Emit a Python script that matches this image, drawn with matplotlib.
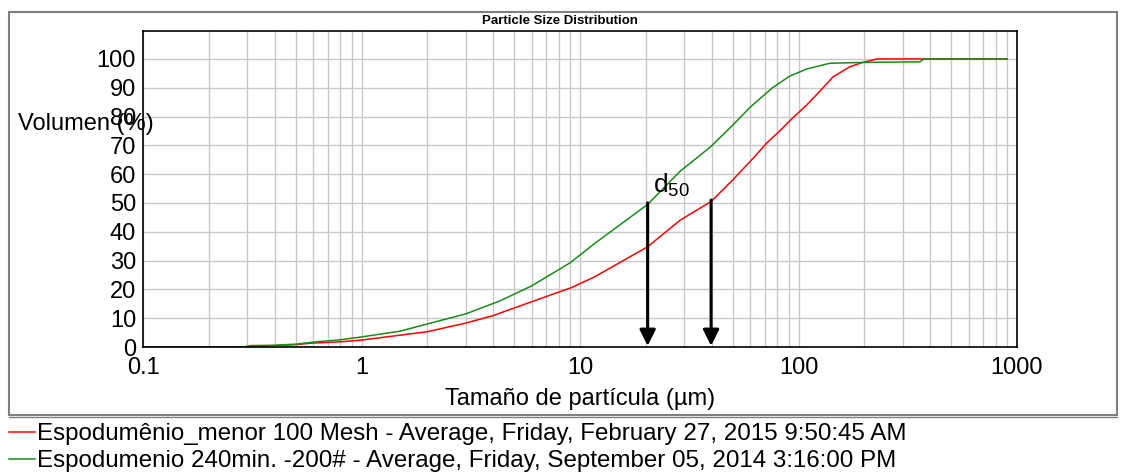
import matplotlib
matplotlib.use("Agg")
import matplotlib.pyplot as plt
from matplotlib.patches import Rectangle
from matplotlib.ticker import FixedLocator, LogLocator, NullFormatter

plt.rcParams['font.family'] = ['Liberation Sans', 'DejaVu Sans']
plt.rcParams['mathtext.fontset'] = 'custom'
plt.rcParams['mathtext.rm'] = 'Liberation Sans'
plt.rcParams['mathtext.it'] = 'Liberation Sans'

# particle size (um) vs cumulative volume (%)
red_size = [0.1, 0.35, 0.37, 0.5, 0.58, 0.8, 1.0, 2.0, 3.0, 4.0, 6.0, 9.2, 11.7,
            20.4, 28.7, 39.8, 50, 62, 71.5, 82, 94, 109, 126, 144, 172, 197, 229, 900]
red_vol = [0, 0, 0.4, 0.8, 1.3, 1.8, 2.4, 5.3, 8.3, 10.9, 15.7, 20.7, 24.4,
           34.8, 44, 50.5, 58, 65.5, 70.8, 75, 79.5, 84, 89, 93.8, 97.3, 98.8, 100, 100]

green_size = [0.1, 0.29, 0.31, 0.4, 0.5, 0.62, 0.8, 1.0, 1.5, 2.0, 3.0, 4.3, 6.0, 9.0,
              11.7, 20.4, 28.7, 39.6, 50, 60, 76, 91, 109, 139, 200, 360, 375, 900]
green_vol = [0, 0, 0.5, 0.6, 1.0, 1.8, 2.5, 3.5, 5.5, 8.0, 11.5, 16.0, 21.2, 29.2,
             36, 49.5, 61, 69.5, 77, 83.2, 90, 94, 96.5, 98.5, 98.8, 99, 100, 100]

d50_sizes = [20.4, 39.8]
d50_vals = [50, 51]

red_label = "Espodumênio_menor 100 Mesh - Average, Friday, February 27, 2015 9:50:45 AM"
green_label = "Espodumenio 240min. -200# - Average, Friday, September 05, 2014 3:16:00 PM"

W, H = 1128, 473
fig = plt.figure(figsize=(W / 100, H / 100), dpi=100)

# outer frame of the chart
fig.patches.append(Rectangle((9 / W, 1 - 415 / H), (1117 - 9) / W, (415 - 12) / H,
                             transform=fig.transFigure, fill=False,
                             edgecolor='#808080', linewidth=1.5))
fig.lines.append(plt.Line2D([9 / W, 1117 / W], [1 - 417 / H, 1 - 417 / H],
                            transform=fig.transFigure, color='#808080', lw=1))

ax = fig.add_axes([143 / W, 1 - 347 / H, (1017 - 143) / W, (347 - 31) / H])

l1, = ax.plot(red_size, red_vol, color='#ff0000', lw=1.1, label=red_label)
l2, = ax.plot(green_size, green_vol, color='#1a8a1a', lw=1.1, label=green_label)

ax.set_xscale('log')
ax.set_xlim(0.1, 1000)
ax.set_ylim(0, 109.7)
ax.yaxis.set_major_locator(FixedLocator(range(0, 101, 10)))
ax.xaxis.set_major_locator(FixedLocator([0.1, 1, 10, 100, 1000]))
ax.set_xticklabels(['0.1', '1', '10', '100', '1000'])
ax.xaxis.set_minor_locator(LogLocator(base=10, subs=range(2, 10)))
ax.xaxis.set_minor_formatter(NullFormatter())
ax.grid(True, which='both', color='#c8c8c8', lw=1)
ax.set_axisbelow(True)
ax.tick_params(which='both', length=0, labelsize=17)
ax.tick_params(axis='x', pad=7)
ax.tick_params(axis='y', pad=5)
for s in ax.spines.values():
    s.set_color('black')
    s.set_linewidth(1.2)

for x, v in zip(d50_sizes, d50_vals):
    ax.annotate('', xy=(x, 0.4), xytext=(x, v),
                arrowprops=dict(arrowstyle='-|>', color='black', lw=2.2,
                                mutation_scale=24, shrinkA=0, shrinkB=0))
ax.text(21.5, 56, r'$\mathrm{d}_{50}$', fontsize=19, ha='left', va='center')

ax.set_xlabel('Tamaño de partícula (µm)', fontsize=17, labelpad=7)
fig.text(18 / W, 1 - 124 / H, 'Volumen (%)', fontsize=17, ha='left', va='center')
fig.text(560 / W, 1 - 21 / H, 'Particle Size Distribution', fontsize=9.5,
         fontweight='bold', ha='center', va='center')

fig.legend(handles=[l1, l2], loc='upper left', bbox_to_anchor=(9 / W, 1 - 423 / H),
           frameon=False, fontsize=17.4, handlelength=1.08, handletextpad=0.08,
           labelspacing=0.22, borderpad=0, borderaxespad=0)

fig.savefig('out.png', dpi=100)
